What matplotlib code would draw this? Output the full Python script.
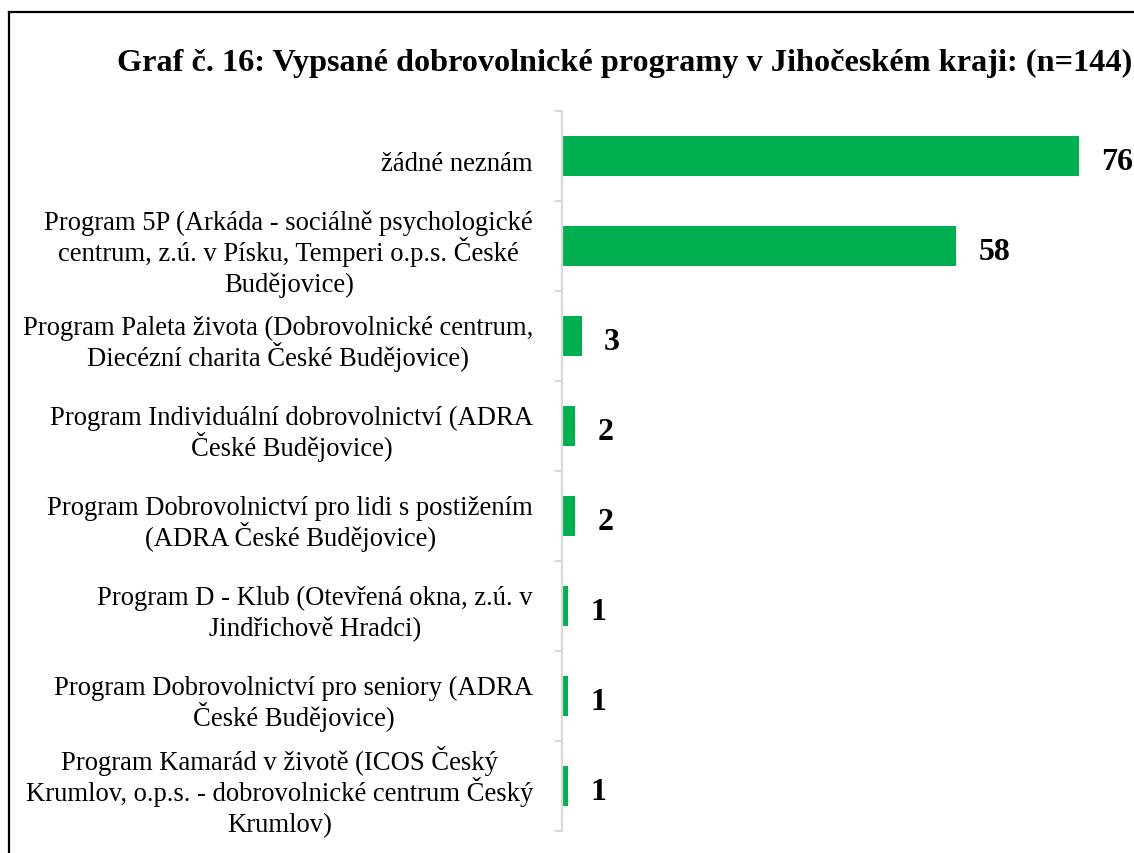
import matplotlib
matplotlib.use("Agg")
import matplotlib.pyplot as plt
from matplotlib.lines import Line2D
from matplotlib.transforms import blended_transform_factory, ScaledTranslation

categories = [
    "žádné neznám",
    "Program 5P (Arkáda - sociálně psychologické\ncentrum, z.ú. v Písku, Temperi o.p.s. České\nBudějovice)",
    "Program Paleta života (Dobrovolnické centrum,\nDiecézní charita České Budějovice)",
    "Program Individuální dobrovolnictví (ADRA\nČeské Budějovice)",
    "Program Dobrovolnictví pro lidi s postižením\n(ADRA České Budějovice)",
    "Program D - Klub (Otevřená okna, z.ú. v\nJindřichově Hradci)",
    "Program Dobrovolnictví pro seniory (ADRA\nČeské Budějovice)",
    "Program Kamarád v životě (ICOS Český\nKrumlov, o.p.s. - dobrovolnické centrum Český\nKrumlov)",
]
values = [76, 58, 3, 2, 2, 1, 1, 1]
title = "Graf č. 16: Vypsané dobrovolnické programy v Jihočeském kraji: (n=144)"

W, H = 1134, 854
plt.rcParams['font.family'] = ['Liberation Serif', 'DejaVu Serif']
fig = plt.figure(figsize=(W / 100, H / 100), dpi=100)

ax_left, ax_right, ax_top, ax_bottom = 561.5, 1131, 112, 832
ax = fig.add_axes([ax_left / W, 1 - ax_bottom / H, (ax_right - ax_left) / W, (ax_bottom - ax_top) / H])

n = len(categories)
ypos = list(range(n))
ax.barh(ypos, values, height=0.44, color="#00B050", zorder=2)
ax.set_ylim(n - 0.5, -0.5)
ax.set_xlim(0, (ax_right - ax_left) / 6.81)

for y, v in zip(ypos, values):
    ax.annotate(str(v), xy=(v, y), xytext=(16, -4), textcoords="offset points",
                ha="left", va="center", fontsize=23, fontweight="bold",
                annotation_clip=False)

for s in ["top", "right", "bottom"]:
    ax.spines[s].set_visible(False)
ax.spines["left"].set_color("#D9D9D9")
ax.spines["left"].set_linewidth(1.6)
ax.spines["left"].set_zorder(3)
ax.set_xticks([])
ax.set_yticks([])
ax.set_yticks([i - 0.5 for i in range(n + 1)], minor=True)
ax.tick_params(axis="y", which="minor", length=5, width=1.5, color="#D9D9D9", direction="out")

# category labels: each line separately, block centred, right edge fixed
renderer = fig.canvas.get_renderer()
label_right_px = 533
line_px = 31
base_px = 14
for i, label in enumerate(categories):
    lines = label.split("\n")
    texts = []
    for j, line in enumerate(lines):
        dy = (j - (len(lines) - 1) / 2) * line_px + base_px
        tr = blended_transform_factory(fig.transFigure, ax.transData) + \
            ScaledTranslation(0, -dy / 100, fig.dpi_scale_trans)
        t = fig.text(0.2, i, line, transform=tr, ha="center", va="baseline", fontsize=19.2)
        texts.append(t)
    wmax = max(t.get_window_extent(renderer).width for t in texts)
    for t in texts:
        t.set_x((label_right_px - wmax / 2) / W)

fig.text(625 / W, 1 - 63 / H, title, ha="center", va="center", fontsize=23.2, fontweight="bold")

# outer frame (partially visible)
fig.add_artist(Line2D([9 / W, 9 / W], [0, 1 - 13 / H], color="black", linewidth=1.6, transform=fig.transFigure))
fig.add_artist(Line2D([9 / W, 1], [1 - 13 / H, 1 - 13 / H], color="black", linewidth=1.6, transform=fig.transFigure))

fig.savefig("out.png", dpi=100)
